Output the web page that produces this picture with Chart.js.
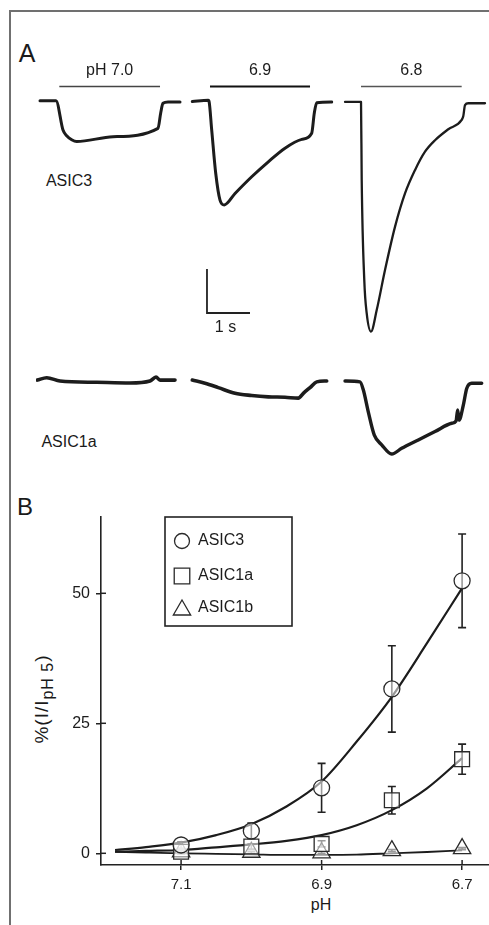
<!DOCTYPE html>
<html><head><meta charset="utf-8">
<script src="https://cdn.jsdelivr.net/npm/chart.js@4.4.1/dist/chart.umd.min.js"></script>
<style>
html,body{margin:0;padding:0;background:#fff;}
body{width:489px;height:925px;position:relative;overflow:hidden;font-family:"Liberation Sans",Arial,Helvetica,sans-serif;color:#1a1a1a;}
.frame{position:absolute;left:9px;top:10px;width:500px;height:930px;border-left:2px solid #707070;border-top:2px solid #707070;}
.lbl{position:absolute;transform:translate(-50%,-50%);white-space:nowrap;line-height:1;}
canvas{position:absolute;}
.ytitle{position:absolute;left:44px;top:699px;transform:translate(-50%,-50%) rotate(-90deg);white-space:nowrap;font-size:19px;line-height:1;letter-spacing:1px;}
.ytitle sub{font-size:16px;vertical-align:-5px;}
</style></head><body>
<div class="frame"></div>
<div class="lbl" style="left:27px;top:53px;font-size:25px;">A</div>
<div class="lbl" style="left:25px;top:507px;font-size:24px;">B</div>
<div class="lbl" style="left:69px;top:181px;font-size:16px;">ASIC3</div>
<div class="lbl" style="left:69px;top:442px;font-size:16px;">ASIC1a</div>
<div class="lbl" style="left:321px;top:905px;font-size:16px;">pH</div>
<div class="ytitle">%(I/I<sub>pH 5</sub>)</div>

<canvas id="a1" width="146" height="290" style="left:36px;top:55px"></canvas>
<canvas id="a2" width="146" height="290" style="left:190px;top:55px"></canvas>
<canvas id="a3" width="146" height="290" style="left:343px;top:55px"></canvas>
<canvas id="b1" width="146" height="110" style="left:36px;top:360px"></canvas>
<canvas id="b2" width="146" height="110" style="left:190px;top:360px"></canvas>
<canvas id="b3" width="146" height="110" style="left:343px;top:360px"></canvas>
<canvas id="cB" width="502" height="425" style="left:0;top:500px"></canvas>

<script>
// ---------- Panel A: current traces (time in s, current in scale-bar units) ----------
const asic3_70_t = [0.093, 0.465, 0.628, 0.714, 0.830, 0.947, 1.791, 2.837, 2.900, 2.953, 3.070, 3.349];
const asic3_70_i = [0.02, 0.02, -0.65, -0.78, -0.87, -0.91, -0.80, -0.61, -0.26, -0.04, -0.01, -0.01];
const asic3_69_t = [0.053, 0.426, 0.442, 0.505, 0.598, 0.698, 0.798, 1.047, 1.435, 1.821, 2.209, 2.598, 2.830, 2.891, 2.947, 3.295];
const asic3_69_i = [0.00, 0.03, 0.01, -0.65, -1.63, -2.24, -2.35, -2.09, -1.71, -1.37, -1.06, -0.86, -0.72, -0.26, -0.03, -0.01];
const asic3_68_t = [0.047, 0.395, 0.419, 0.435, 0.495, 0.551, 0.651, 0.784, 0.977, 1.209, 1.442, 1.674, 1.907, 2.140, 2.449, 2.760, 2.798, 2.837, 2.914, 3.302];
const asic3_68_i = [-0.01, -0.01, -0.01, -1.78, -4.06, -4.81, -5.23, -4.74, -3.83, -2.85, -2.09, -1.56, -1.14, -0.88, -0.63, -0.42, -0.33, -0.08, -0.04, -0.04];

const asic1a_70_t = [0.030, 0.249, 0.558, 1.412, 2.186, 2.651, 2.791, 2.884, 3.233];
const asic1a_70_i = [0.02, 0.075, 0.00, -0.03, -0.045, 0.00, 0.09, 0.02, 0.02];
const asic1a_69_t = [0.053, 0.349, 0.658, 1.047, 1.435, 1.821, 2.209, 2.519, 2.635, 2.791, 2.947, 3.179];
const asic1a_69_i = [0.02, -0.05, -0.15, -0.28, -0.33, -0.36, -0.37, -0.39, -0.28, -0.15, -0.02, 0.00];
const asic1a_68_t = [0.047, 0.395, 0.472, 0.588, 0.728, 0.900, 1.133, 1.365, 1.751, 2.140, 2.528, 2.628, 2.667, 2.698, 2.798, 2.877, 2.993, 3.226];
const asic1a_68_i = [0.00, -0.02, -0.20, -0.70, -1.23, -1.45, -1.66, -1.53, -1.34, -1.15, -0.96, -0.91, -0.66, -0.89, -0.55, -0.17, -0.05, -0.05];

const pHLabels = ['pH 7.0', '6.9', '6.8'];
const applyOn  = [0.542, 0.465, 0.419];   // s
const applyOff = [2.884, 2.791, 2.760];   // s
const scaleBarTime = 1;      // s
const scaleBarCurrent = 1;   // scale-bar units
const scaleBarLabel = '1 s';

// ---------- Panel B: pH dependence ----------
const pHPoints   = [7.1, 7.0, 6.9, 6.8, 6.7];
const asic3Mean  = [1.6, 4.3, 12.6, 31.6, 52.4];
const asic3Err   = [0.6, 1.5, 4.7, 8.3, 9.0];
const asic1aMean = [0.3, 1.3, 1.8, 10.2, 18.1];
const asic1aErr  = [0.4, 0.5, 0.6, 2.65, 2.9];
const asic1bMean = [0.3, 0.2, 0.1, 0.5, 0.9];
const asic1bErr  = [0.2, 0.2, 0.2, 0.2, 0.2];

const fitPH      = [7.194, 7.15, 7.1, 7.05, 7.0, 6.95, 6.9, 6.85, 6.8, 6.75, 6.7];
const asic3Fit   = [0.63, 1.2, 2.04, 3.5, 5.6, 9.0, 13.8, 21.5, 30.1, 40.4, 51.0];
const asic1aFit  = [0.3, 0.45, 0.63, 1.15, 1.7, 2.4, 3.5, 5.4, 8.3, 12.5, 18.3];
const asic1bFit  = [0.3, 0.15, 0.0, -0.1, -0.2, -0.3, -0.3, -0.25, 0.0, 0.25, 0.55];

const seriesNames = ['ASIC3', 'ASIC1a', 'ASIC1b'];
const yTickValues = [0, 25, 50];
const xTickValues = [7.1, 6.9, 6.7];

// ---------- helpers ----------
const FONT = "'Liberation Sans', Arial, Helvetica, sans-serif";
const INK = '#1c1c1c';
const pts = (xs, ys) => xs.map((x, k) => ({x: x, y: ys[k]}));

const appBarPlugin = {
  id: 'appBar',
  afterDraw(chart, args, o) {
    if (!o || o.on === undefined) return;
    const {ctx, scales: {x, y}} = chart;
    const x1 = x.getPixelForValue(o.on), x2 = x.getPixelForValue(o.off), yy = y.getPixelForValue(o.level);
    ctx.save();
    ctx.strokeStyle = o.color || '#333'; ctx.lineWidth = o.width || 1.6;
    ctx.beginPath(); ctx.moveTo(x1, yy); ctx.lineTo(x2, yy); ctx.stroke();
    ctx.fillStyle = INK; ctx.font = '16px ' + FONT; ctx.textAlign = 'center'; ctx.textBaseline = 'middle';
    ctx.fillText(o.label, (x1 + x2) / 2, yy - 16);
    ctx.restore();
  }
};
const scaleBarPlugin = {
  id: 'scaleBar',
  afterDraw(chart, args, o) {
    if (!o || o.t0 === undefined) return;
    const {ctx, scales: {x, y}} = chart;
    const px0 = x.getPixelForValue(o.t0), px1 = x.getPixelForValue(o.t0 + o.dt);
    const py0 = y.getPixelForValue(o.i0), py1 = y.getPixelForValue(o.i0 + o.di);
    ctx.save();
    ctx.strokeStyle = '#222'; ctx.lineWidth = 1.8;
    ctx.beginPath(); ctx.moveTo(px0, py1); ctx.lineTo(px0, py0); ctx.lineTo(px1, py0); ctx.stroke();
    ctx.fillStyle = INK; ctx.font = '16px ' + FONT; ctx.textAlign = 'center'; ctx.textBaseline = 'middle';
    ctx.fillText(o.label, (px0 + px1) / 2 - 3, py0 + 15);
    ctx.restore();
  }
};

function traceChart(id, t, i, cfg) {
  return new Chart(document.getElementById(id), {
    type: 'scatter',
    data: {datasets: [{
      data: pts(t, i), showLine: true, pointRadius: 0, borderColor: INK,
      borderWidth: cfg.lw, cubicInterpolationMode: 'monotone',
      borderJoinStyle: 'round', borderCapStyle: 'round'
    }]},
    options: {
      responsive: false, animation: false, events: [],
      layout: {padding: 0},
      plugins: {legend: {display: false}, tooltip: {enabled: false},
        appBar: cfg.bar || {}, scaleBar: cfg.sb || {}},
      scales: {
        x: {type: 'linear', display: false, min: 0, max: 146 / 43},
        y: {type: 'linear', display: false, min: cfg.ymin, max: cfg.ymax}
      }
    },
    plugins: [appBarPlugin, scaleBarPlugin]
  });
}

const row1 = {ymin: -5.534, ymax: 1.057};
const row2 = {ymin: -2.023, ymax: 0.477};
const barLevel = 0.34;

traceChart('a1', asic3_70_t, asic3_70_i, {...row1, lw: 3,
  bar: {on: applyOn[0], off: applyOff[0], level: barLevel, label: pHLabels[0], color: '#444', width: 1.5}});
traceChart('a2', asic3_69_t, asic3_69_i, {...row1, lw: 3,
  bar: {on: applyOn[1], off: applyOff[1], level: barLevel, label: pHLabels[1], color: '#111', width: 2},
  sb: {t0: 0.395, i0: -4.807, dt: scaleBarTime, di: scaleBarCurrent, label: scaleBarLabel}});
traceChart('a3', asic3_68_t, asic3_68_i, {...row1, lw: 2.3,
  bar: {on: applyOn[2], off: applyOff[2], level: barLevel, label: pHLabels[2], color: '#555', width: 1.5}});
traceChart('b1', asic1a_70_t, asic1a_70_i, {...row2, lw: 3.6});
traceChart('b2', asic1a_69_t, asic1a_69_i, {...row2, lw: 3.6});
traceChart('b3', asic1a_68_t, asic1a_68_i, {...row2, lw: 3.4});

// ---------- Panel B chart ----------
const errorBarPlugin = {
  id: 'errorBars',
  beforeDatasetsDraw(chart) {
    const {ctx, scales: {x, y}} = chart;
    ctx.save();
    ctx.strokeStyle = '#222'; ctx.lineWidth = 1.6;
    chart.data.datasets.forEach(ds => {
      if (!ds.err) return;
      ds.data.forEach((p, k) => {
        const px = x.getPixelForValue(p.x);
        const yt = y.getPixelForValue(p.y + ds.err[k]), yb = y.getPixelForValue(p.y - ds.err[k]);
        ctx.beginPath();
        ctx.moveTo(px, yt); ctx.lineTo(px, yb);
        ctx.moveTo(px - 4, yt); ctx.lineTo(px + 4, yt);
        ctx.moveTo(px - 4, yb); ctx.lineTo(px + 4, yb);
        ctx.stroke();
      });
    });
    ctx.restore();
  }
};
const innerTicksPlugin = {
  id: 'innerTicks',
  afterDraw(chart) {
    const {ctx, chartArea: a, scales: {x, y}} = chart;
    ctx.save(); ctx.strokeStyle = '#222'; ctx.lineWidth = 1.5;
    xTickValues.forEach(v => { const px = x.getPixelForValue(v); ctx.beginPath(); ctx.moveTo(px, a.bottom); ctx.lineTo(px, a.bottom - 5); ctx.stroke(); });
    yTickValues.forEach(v => { const py = y.getPixelForValue(v); ctx.beginPath(); ctx.moveTo(a.left, py); ctx.lineTo(a.left + 5, py); ctx.stroke(); });
    ctx.restore();
  }
};
function marker(ctx, style, cx, cy, r) {
  ctx.beginPath();
  if (style === 'circle') ctx.arc(cx, cy, r, 0, Math.PI * 2);
  else if (style === 'rect') { const s = r * Math.SQRT1_2; ctx.rect(cx - s, cy - s, 2 * s, 2 * s); }
  else { ctx.moveTo(cx, cy - r); ctx.lineTo(cx + r * 0.866, cy + r / 2); ctx.lineTo(cx - r * 0.866, cy + r / 2); ctx.closePath(); }
  ctx.fill(); ctx.stroke();
}
const legendBoxPlugin = {
  id: 'legendBox',
  afterDraw(chart) {
    const {ctx} = chart;
    const bx = 165, by = 17, bw = 127, bh = 109;
    ctx.save();
    ctx.strokeStyle = '#222'; ctx.lineWidth = 1.6;
    ctx.strokeRect(bx, by, bw, bh);
    const rows = [41, 76, 108];
    const styles = ['circle', 'rect', 'triangle'];
    const radii = [7.5, 11, 10];
    ctx.font = '16px ' + FONT; ctx.textBaseline = 'middle'; ctx.textAlign = 'left';
    seriesNames.forEach((n, k) => {
      ctx.fillStyle = '#fff'; ctx.strokeStyle = '#2a2a2a'; ctx.lineWidth = 1.3;
      marker(ctx, styles[k], 182, rows[k] + (styles[k] === 'triangle' ? 2 : 0), radii[k]);
      ctx.fillStyle = INK; ctx.fillText(n, 198, rows[k]);
    });
    ctx.restore();
  }
};

const markerCommon = {showLine: false, borderColor: '#2a2a2a', backgroundColor: 'rgba(255,255,255,0.55)', pointBorderWidth: 1.3, clip: false};
const fitCommon = {showLine: true, pointRadius: 0, borderColor: INK, borderWidth: 2.2, cubicInterpolationMode: 'monotone', fill: false};

const chartB = new Chart(document.getElementById('cB'), {
  type: 'scatter',
  data: {datasets: [
    {...markerCommon, label: seriesNames[0], data: pts(pHPoints, asic3Mean), err: asic3Err, pointStyle: 'circle', pointRadius: 8},
    {...markerCommon, label: seriesNames[1], data: pts(pHPoints, asic1aMean), err: asic1aErr, pointStyle: 'rect', pointRadius: 10.5},
    {...markerCommon, label: seriesNames[2], data: pts(pHPoints, asic1bMean), err: asic1bErr, pointStyle: 'triangle', pointRadius: 10},
    {...fitCommon, label: 'fit ASIC3', data: pts(fitPH, asic3Fit)},
    {...fitCommon, label: 'fit ASIC1a', data: pts(fitPH, asic1aFit)},
    {...fitCommon, label: 'fit ASIC1b', data: pts(fitPH, asic1bFit), borderWidth: 1.8}
  ]},
  options: {
    responsive: false, animation: false, events: [],
    layout: {padding: {top: 17, left: 0, right: 0, bottom: 0}},
    plugins: {legend: {display: false}, tooltip: {enabled: false}},
    scales: {
      x: {
        type: 'linear', reverse: true, min: 6.66, max: 7.214,
        afterBuildTicks: s => { s.ticks = xTickValues.map(v => ({value: v})); },
        afterFit: s => { s.height = 60; },
        grid: {drawOnChartArea: false, drawTicks: true, tickLength: 5, color: '#222', lineWidth: 1.5},
        border: {display: true, color: '#222', width: 1.6},
        ticks: {padding: 6, color: INK, font: {family: FONT, size: 15}, maxRotation: 0, autoSkip: false,
          callback: v => Number(v).toFixed(1)}
      },
      y: {
        type: 'linear', min: -2.25, max: 64.67,
        afterBuildTicks: s => { s.ticks = yTickValues.map(v => ({value: v})); },
        afterFit: s => { s.width = 101; },
        grid: {drawOnChartArea: false, drawTicks: true, tickLength: 5, color: '#222', lineWidth: 1.5},
        border: {display: true, color: '#222', width: 1.6},
        ticks: {padding: 6, color: INK, font: {family: FONT, size: 16}, callback: v => String(v)}
      }
    }
  },
  plugins: [errorBarPlugin, innerTicksPlugin, legendBoxPlugin]
});
</script>
</body></html>
